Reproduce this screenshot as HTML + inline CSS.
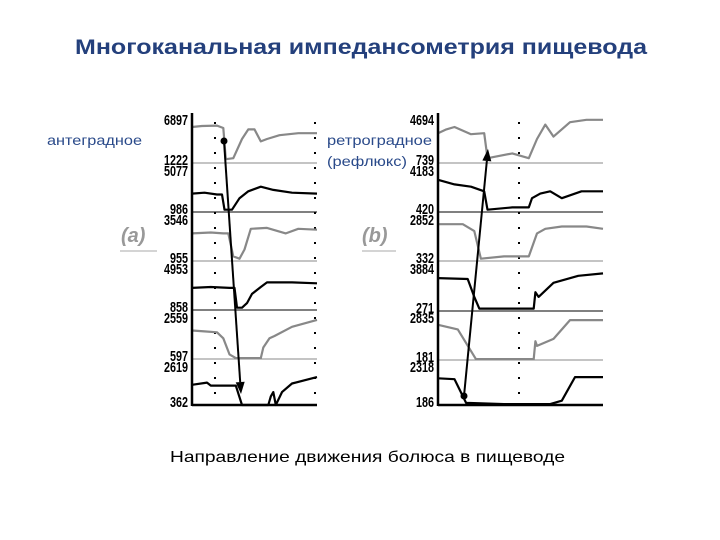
<!DOCTYPE html>
<html><head><meta charset="utf-8"><style>
html,body{margin:0;padding:0;background:#fff;}
svg{display:block;}
</style></head><body>
<svg width="720" height="540" viewBox="0 0 720 540" xmlns="http://www.w3.org/2000/svg">
<text x="361" y="54" text-anchor="middle" font-family="Liberation Sans, sans-serif" font-size="21" font-weight="bold" fill="#24407c" textLength="572" lengthAdjust="spacingAndGlyphs">Многоканальная импедансометрия пищевода</text>
<text x="47" y="145" font-family="Liberation Sans, sans-serif" font-size="14" fill="#2a4a8a" textLength="95" lengthAdjust="spacingAndGlyphs">антеградное</text>
<text x="327" y="145" font-family="Liberation Sans, sans-serif" font-size="14" fill="#2a4a8a" textLength="105" lengthAdjust="spacingAndGlyphs">ретроградное</text>
<text x="327" y="166" font-family="Liberation Sans, sans-serif" font-size="14" fill="#2a4a8a" textLength="80" lengthAdjust="spacingAndGlyphs">(рефлюкс)</text>
<text x="121" y="242" font-family="Liberation Sans, sans-serif" font-size="20" font-style="italic" font-weight="bold" fill="#999">(a)</text>
<line x1="120" y1="251" x2="157" y2="251" stroke="#aaa" stroke-width="1"/>
<text x="362" y="242" font-family="Liberation Sans, sans-serif" font-size="20" font-style="italic" font-weight="bold" fill="#999">(b)</text>
<line x1="362" y1="251" x2="396" y2="251" stroke="#aaa" stroke-width="1"/>
<text x="170" y="462" font-family="Liberation Sans, sans-serif" font-size="16" fill="#000" textLength="395" lengthAdjust="spacingAndGlyphs">Направление движения болюса в пищеводе</text>
<g id="pa"></g>
<g id="pb"></g>
</svg>
<script>
// Panel A data
const aTop=["6897","5077","3546","4953","2559","2619"];
const aBot=["1222","986","955","858","597","362"];
const aT=[
[0,8,20,25,27,33,40,45,50,55,60,70,85,100],
[0,10,20,24,26,32,38,45,55,65,80,100],
[0,15,25,29,33,38,42,47,60,75,85,100],
[0,15,30,34,36,40,44,48,55,60,80,100],
[0,10,20,25,30,35,45,55,57,62,66,80,100],
[0,12,15,35,40,61,63,65,67,72,80,100]];
const aV=[
[0.75,0.77,0.78,0.73,0.08,0.1,0.5,0.7,0.7,0.45,0.5,0.58,0.62,0.62],
[0.4,0.42,0.38,0.38,0.05,0.05,0.3,0.45,0.55,0.48,0.42,0.4],
[0.6,0.62,0.6,0.6,0.1,0.05,0.25,0.7,0.72,0.6,0.7,0.68],
[0.48,0.5,0.48,0.48,0.05,0.05,0.15,0.35,0.5,0.6,0.6,0.58],
[0.62,0.6,0.58,0.45,0.1,0.02,0.02,0.02,0.25,0.45,0.5,0.7,0.85],
[0.47,0.52,0.45,0.45,0,0,0.2,0.3,0,0.3,0.5,0.65]];
const aColor=["#888","#000","#888","#000","#888","#000"];
// Panel B data
const bTop=["4694","4183","2852","3884","2835","2318"];
const bBot=["739","420","332","271","181","186"];
const bT=[
[0,5,10,20,28,30,45,55,60,65,70,80,90,100],
[0,10,20,28,30,45,55,57,62,68,75,87,100],
[0,15,22,26,40,55,60,65,75,90,100],
[0,18,22,25,40,58,59,61,70,85,100],
[0,12,23,40,58,59,60,70,80,100],
[0,10,17,40,68,75,83,100]];
const bV=[
[0.62,0.7,0.75,0.6,0.62,0.1,0.2,0.1,0.5,0.8,0.55,0.85,0.9,0.9],
[0.7,0.6,0.55,0.45,0.05,0.1,0.1,0.3,0.4,0.45,0.3,0.45,0.45],
[0.8,0.8,0.65,0.05,0.1,0.1,0.6,0.7,0.75,0.75,0.7],
[0.7,0.68,0.3,0.05,0.05,0.05,0.4,0.3,0.6,0.75,0.8],
[0.75,0.65,0.02,0.02,0.02,0.4,0.3,0.45,0.85,0.85],
[0.62,0.6,0.05,0.02,0.02,0.1,0.65,0.65]];
const bColor=["#888","#000","#888","#000","#888","#000"];

const NS="http://www.w3.org/2000/svg";
function mk(g,tag,at){const e=document.createElementNS(NS,tag);for(const k in at)e.setAttribute(k,at[k]);g.appendChild(e);return e;}
function panel(gid,ax,right,tops,bases,topL,botL,T,V,col,dotsX){
  const g=document.getElementById(gid);
  const w=right-ax;
  dotsX.forEach(dx=>{for(let y=122;y<405;y+=15){const d=mk(g,'rect',{x:dx-1,y:y,width:2,height:2,fill:'#000'});
    
    }});
  for(let i=0;i<6;i++){
    const top=tops[i],base=bases[i],h=base-top;
    const xs=t=>ax+t/100*w, ys=v=>base-v*h;
    if(i<5){const l=mk(g,'line',{x1:ax,y1:base,x2:right,y2:base,stroke:(i%2==0?'#888':'#000'),'stroke-width':1});
      
      }
    const pts=T[i].map((t,j)=>xs(t).toFixed(1)+','+ys(V[i][j]).toFixed(1)).join(' ');
    const p=mk(g,'polyline',{points:pts,fill:'none',stroke:col[i],'stroke-width':2.2,'stroke-linejoin':'round'});
    
    
    const tl=mk(g,'text',{x:ax-4,y:top+10,'text-anchor':'end','font-family':'Liberation Sans, sans-serif','font-size':15,'font-weight':'bold',fill:'#000',textLength:topL[i].length*6,lengthAdjust:'spacingAndGlyphs'});
    tl.textContent=topL[i];
    
    
    const bl=mk(g,'text',{x:ax-4,y:base+2,'text-anchor':'end','font-family':'Liberation Sans, sans-serif','font-size':15,'font-weight':'bold',fill:'#000',textLength:botL[i].length*6,lengthAdjust:'spacingAndGlyphs'});
    bl.textContent=botL[i];
    
    
  }
  const ya=mk(g,'line',{x1:ax,y1:113,x2:ax,y2:406,stroke:'#000','stroke-width':2.5});
  
  
  const xa=mk(g,'line',{x1:ax,y1:405,x2:right,y2:405,stroke:'#000','stroke-width':2.5});
  
  
}
panel('pa',192,317,[115,166,215,264,313,362],[163,212,261,310,359,405],aTop,aBot,aT,aV,aColor,[215,315]);
panel('pb',438,603,[115,166,215,264,313,362],[163,212,261,311,360,405],bTop,bBot,bT,bV,bColor,[519]);
function arrow(gid,x1,y1,x2,y2,name){
  const g=document.getElementById(gid);
  const c=mk(g,'circle',{cx:x1,cy:y1,r:3.5,fill:'#000'});
  
  
  const ang=Math.atan2(y2-y1,x2-x1),L=12,Wd=4.5;
  const bx=x2-L*Math.cos(ang),by=y2-L*Math.sin(ang);
  const l=mk(g,'line',{x1:x1,y1:y1,x2:bx,y2:by,stroke:'#000','stroke-width':2});
  
  
  const px=-Math.sin(ang)*Wd,py=Math.cos(ang)*Wd;
  const h=mk(g,'polygon',{points:`${x2},${y2} ${bx+px},${by+py} ${bx-px},${by-py}`,fill:'#000'});
  
  
}
arrow('pa',224,141,241,394,'antegrade-arrow');
arrow('pb',464,396,488,149,'retrograde-arrow');
</script>
</body></html>
